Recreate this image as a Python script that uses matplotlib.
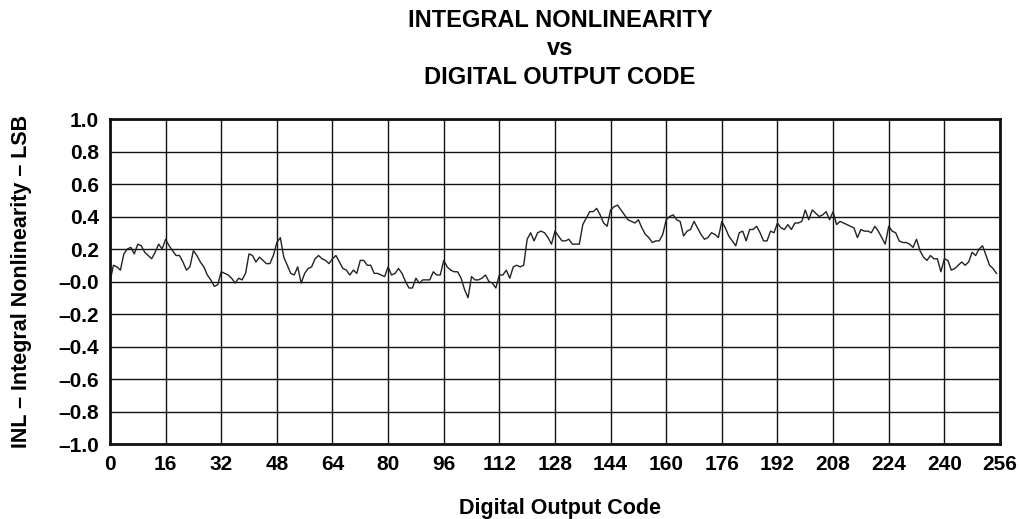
import numpy as np
import matplotlib
matplotlib.use('Agg')
import matplotlib.pyplot as plt

# INL values, one per code 0..255 (LSB)
inl = [
    0.00, 0.10, 0.09, 0.07, 0.17, 0.20, 0.21, 0.17, 0.23, 0.22,
    0.18, 0.16, 0.14, 0.18, 0.23, 0.20, 0.26, 0.22, 0.19, 0.16,
    0.16, 0.12, 0.07, 0.09, 0.19, 0.16, 0.12, 0.09, 0.04, 0.01,
    -0.03, -0.02, 0.06, 0.05, 0.04, 0.02, -0.01, 0.02, 0.01, 0.05,
    0.17, 0.16, 0.12, 0.15, 0.13, 0.11, 0.11, 0.16, 0.24, 0.27,
    0.15, 0.10, 0.05, 0.04, 0.09, -0.01, 0.05, 0.08, 0.09, 0.14,
    0.16, 0.14, 0.13, 0.11, 0.14, 0.16, 0.12, 0.08, 0.07, 0.04,
    0.07, 0.05, 0.13, 0.13, 0.10, 0.10, 0.05, 0.05, 0.04, 0.03,
    0.09, 0.04, 0.05, 0.08, 0.05, 0.00, -0.04, -0.04, 0.02, -0.01,
    0.01, 0.01, 0.01, 0.06, 0.04, 0.04, 0.13, 0.09, 0.07, 0.06,
    0.06, 0.02, -0.05, -0.10, 0.03, 0.01, 0.01, 0.02, 0.04, 0.00,
    -0.01, -0.04, 0.04, 0.04, 0.07, 0.02, 0.09, 0.10, 0.09, 0.10,
    0.26, 0.30, 0.25, 0.30, 0.31, 0.30, 0.27, 0.23, 0.31, 0.28,
    0.25, 0.25, 0.26, 0.23, 0.23, 0.23, 0.35, 0.39, 0.43, 0.43,
    0.45, 0.41, 0.36, 0.34, 0.44, 0.46, 0.47, 0.44, 0.41, 0.38,
    0.37, 0.36, 0.38, 0.33, 0.29, 0.27, 0.24, 0.25, 0.25, 0.29,
    0.38, 0.40, 0.41, 0.38, 0.37, 0.28, 0.31, 0.32, 0.37, 0.33,
    0.29, 0.26, 0.27, 0.30, 0.29, 0.27, 0.37, 0.33, 0.28, 0.25,
    0.22, 0.30, 0.31, 0.25, 0.32, 0.32, 0.34, 0.30, 0.25, 0.25,
    0.31, 0.30, 0.36, 0.33, 0.32, 0.35, 0.32, 0.36, 0.36, 0.37,
    0.44, 0.38, 0.44, 0.42, 0.40, 0.41, 0.43, 0.38, 0.43, 0.35,
    0.37, 0.36, 0.35, 0.34, 0.33, 0.27, 0.32, 0.31, 0.31, 0.30,
    0.34, 0.31, 0.27, 0.23, 0.34, 0.31, 0.30, 0.25, 0.24, 0.24,
    0.23, 0.21, 0.26, 0.19, 0.15, 0.13, 0.16, 0.14, 0.14, 0.06,
    0.14, 0.13, 0.07, 0.08, 0.10, 0.12, 0.10, 0.12, 0.18, 0.16,
    0.20, 0.22, 0.16, 0.10, 0.08, 0.05,
]
codes = np.arange(len(inl))

x_ticks = [0, 16, 32, 48, 64, 80, 96, 112, 128, 144, 160, 176, 192, 208, 224, 240, 256]
y_ticks = [1.0, 0.8, 0.6, 0.4, 0.2, 0.0, -0.2, -0.4, -0.6, -0.8, -1.0]
y_labels = ['1.0', '0.8', '0.6', '0.4', '0.2', '–0.0', '–0.2', '–0.4', '–0.6', '–0.8', '–1.0']

plt.rcParams['font.family'] = ['Liberation Sans', 'DejaVu Sans']
plt.rcParams['font.weight'] = 'bold'

fig = plt.figure(figsize=(10.21, 5.19), dpi=100)
ax = fig.add_axes([0.1077, 0.1445, 0.8717, 0.6262])

ax.plot(codes, inl, color='#222222', lw=1.0)

ax.set_xlim(0, 256)
ax.set_ylim(-1.0, 1.0)
ax.set_xticks(x_ticks)
ax.set_xticklabels([str(t) for t in x_ticks], fontsize=15, fontweight='bold')
ax.set_yticks(y_ticks)
ax.set_yticklabels(y_labels, fontsize=15, fontweight='bold')
ax.tick_params(length=0, pad=8)
ax.grid(True, color='#111111', lw=1.0)
for s in ax.spines.values():
    s.set_linewidth(2.0)
    s.set_color('#111111')

ax.set_ylabel('INL – Integral Nonlinearity – LSB', fontsize=15.5, fontweight='bold', labelpad=19)

# x label and three-line title, baselines placed as in the reference
fig.text(0.5485, 0.009, 'Digital Output Code', ha='center', va='baseline', fontsize=15.5, fontweight='bold')
fig.text(0.5485, 0.948, 'INTEGRAL NONLINEARITY', ha='center', va='baseline', fontsize=17, fontweight='bold')
fig.text(0.5485, 0.894, 'vs', ha='center', va='baseline', fontsize=17, fontweight='bold')
fig.text(0.5485, 0.838, 'DIGITAL OUTPUT CODE', ha='center', va='baseline', fontsize=17, fontweight='bold')

fig.savefig('out.png', dpi=100)
